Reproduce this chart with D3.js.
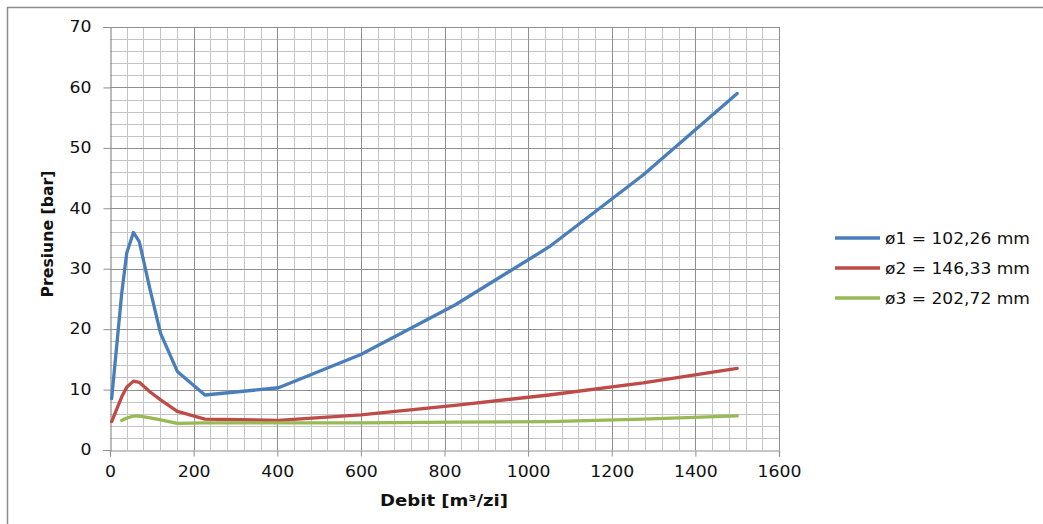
<!DOCTYPE html>
<html>
<head>
<meta charset="utf-8">
<script src="https://cdn.jsdelivr.net/npm/d3@7"></script>
<style>
  html, body { margin: 0; padding: 0; background: #fff; }
  svg { display: block; }
  text { font-family: "DejaVu Sans", "Open Sans", sans-serif; fill: #111; }
</style>
</head>
<body>
<svg id="chart" width="1043" height="524"></svg>
<script>
// Flow rate (m3/day) shared by all three pipe diameters
const debit = [4, 28, 40, 56, 70, 96, 121, 161, 227, 403, 600, 825, 1050, 1275, 1500];

// Pressure (bar) for each pipe diameter
const presiuneD1 = [8.5, 25.9, 32.6, 36.0, 34.5, 26.5, 19.3, 13.0, 9.1, 10.3, 15.8, 24.0, 33.6, 45.5, 59.0];
const presiuneD2 = [4.7, 8.8, 10.4, 11.4, 11.2, 9.6, 8.3, 6.4, 5.1, 4.9, 5.8, 7.4, 9.1, 11.1, 13.5];
const presiuneD3 = [null, 4.9, 5.3, 5.6, 5.6, 5.3, 5.0, 4.4, 4.5, 4.5, 4.5, 4.6, 4.7, 5.1, 5.65];

const seriesNames = ["ø1 = 102,26 mm", "ø2 = 146,33 mm", "ø3 = 202,72 mm"];
const seriesColors = ["#4a7ebb", "#be4b48", "#98b954"];

const xTicks = [0, 200, 400, 600, 800, 1000, 1200, 1400, 1600];
const yTicks = [0, 10, 20, 30, 40, 50, 60, 70];

// widen glyphs a little, as the chart's text is set wide
const WIDEN = 1.15;
function widen(sel, factor) {
  sel.each(function () {
    const w = this.getComputedTextLength();
    d3.select(this).attr("textLength", w * factor).attr("lengthAdjust", "spacingAndGlyphs");
  });
}

const svg = d3.select("#chart");

// outer chart frame
svg.append("rect")
  .attr("x", 7.5).attr("y", 7.5)
  .attr("width", 1100).attr("height", 600)
  .attr("fill", "none").attr("stroke", "#8c8c8c").attr("stroke-width", 1.5);

const plot = { left: 110, right: 779, top: 27, bottom: 450 };
const x = d3.scaleLinear().domain([0, 1600]).range([plot.left, plot.right]);
const y = d3.scaleLinear().domain([0, 70]).range([plot.bottom, plot.top]);

const g = svg.append("g");

// minor gridlines
g.append("g").selectAll("line")
  .data(d3.range(0, 1601, 40).filter(v => v % 200 !== 0))
  .join("line")
  .attr("x1", d => Math.round(x(d)) + 0.5).attr("x2", d => Math.round(x(d)) + 0.5)
  .attr("y1", plot.top).attr("y2", plot.bottom)
  .attr("stroke", "#c4c4c4").attr("stroke-width", 1);
g.append("g").selectAll("line")
  .data(d3.range(0, 71, 2).filter(v => v % 10 !== 0))
  .join("line")
  .attr("y1", d => Math.round(y(d)) + 0.5).attr("y2", d => Math.round(y(d)) + 0.5)
  .attr("x1", plot.left).attr("x2", plot.right)
  .attr("stroke", "#c4c4c4").attr("stroke-width", 1);

// major gridlines
g.append("g").selectAll("line")
  .data(xTicks.slice(1))
  .join("line")
  .attr("x1", d => Math.round(x(d)) + 0.5).attr("x2", d => Math.round(x(d)) + 0.5)
  .attr("y1", plot.top).attr("y2", plot.bottom)
  .attr("stroke", "#8f8f8f").attr("stroke-width", 1);
g.append("g").selectAll("line")
  .data(yTicks.slice(1))
  .join("line")
  .attr("y1", d => Math.round(y(d)) + 0.5).attr("y2", d => Math.round(y(d)) + 0.5)
  .attr("x1", plot.left).attr("x2", plot.right)
  .attr("stroke", "#8f8f8f").attr("stroke-width", 1);

// axes
const xAxis = d3.axisBottom(x).tickValues(xTicks).tickSize(6).tickPadding(10).tickFormat(d3.format("d"));
const yAxis = d3.axisLeft(y).tickValues(yTicks).tickSize(7).tickPadding(12).tickFormat(d3.format("d"));

const xg = svg.append("g").attr("transform", `translate(0,${plot.bottom + 0.5})`).call(xAxis);
const yg = svg.append("g").attr("transform", `translate(${plot.left + 0.5},0)`).call(yAxis);
[xg, yg].forEach(a => {
  a.select(".domain").attr("stroke", "#8f8f8f").attr("stroke-width", 1.2);
  a.selectAll(".tick line").attr("stroke", "#8f8f8f");
  a.selectAll(".tick text").attr("font-size", 15).attr("fill", "#111")
    .style("font-family", '"DejaVu Sans", sans-serif')
    .call(widen, WIDEN);
});

// series lines
const allSeries = [presiuneD1, presiuneD2, presiuneD3];
const line = d3.line()
  .defined(d => d[1] != null)
  .x(d => x(d[0]))
  .y(d => y(d[1]));

allSeries.forEach((vals, i) => {
  svg.append("path")
    .datum(debit.map((dv, k) => [dv, vals[k]]))
    .attr("d", line)
    .attr("fill", "none")
    .attr("stroke", seriesColors[i])
    .attr("stroke-width", 3.3)
    .attr("stroke-linejoin", "round")
    .attr("stroke-linecap", "round");
});

// axis titles
svg.append("text")
  .attr("x", 444).attr("y", 506)
  .attr("text-anchor", "middle")
  .attr("font-size", 15).attr("font-weight", "bold")
  .text("Debit [m³/zi]")
  .attr("textLength", 128).attr("lengthAdjust", "spacingAndGlyphs");

svg.append("text")
  .attr("transform", "translate(53,234) rotate(-90)")
  .attr("text-anchor", "middle")
  .attr("font-size", 15).attr("font-weight", "bold")
  .text("Presiune [bar]")
  .attr("textLength", 127).attr("lengthAdjust", "spacingAndGlyphs");

// legend
const legend = svg.append("g").attr("transform", "translate(835,238)");
seriesNames.forEach((name, i) => {
  const row = legend.append("g").attr("transform", `translate(0,${i * 30})`);
  row.append("line")
    .attr("x1", 0).attr("x2", 45).attr("y1", 0).attr("y2", 0)
    .attr("stroke", seriesColors[i]).attr("stroke-width", 3.3);
  row.append("text")
    .attr("x", 50).attr("y", 5.5)
    .attr("font-size", 15)
    .text(name)
    .attr("textLength", 145).attr("lengthAdjust", "spacingAndGlyphs");
});
</script>
</body>
</html>
